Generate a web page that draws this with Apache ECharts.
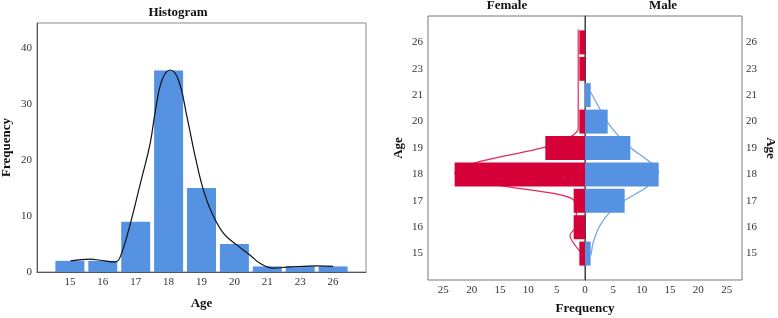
<!DOCTYPE html>
<html>
<head>
<meta charset="utf-8">
<script src="https://cdn.jsdelivr.net/npm/echarts@6/dist/echarts.min.js"></script>
<style>
  html, body { margin: 0; padding: 0; background: #fff; }
  #main { width: 778px; height: 318px; }
</style>
</head>
<body>
<div id="main"></div>
<script>
// age groups and counts
const ages = ['15', '16', '17', '18', '19', '20', '21', '23', '26'];
const totalCounts = [2, 2, 9, 36, 15, 5, 1, 1, 1];
const femaleCounts = [1, 2, 2, 23, 7, 1, 0, 1, 1];
const maleCounts = [1, 0, 7, 13, 8, 4, 1, 0, 0];

// density curves: [age index, frequency]
const totalCurve = [
  [0.02, 2.0], [0.62, 2.3], [0.93, 2.1], [1.38, 1.8], [1.53, 2.7], [1.84, 8.7],
  [2.14, 15.8], [2.44, 23], [2.6, 28.9], [2.8, 34.3], [3.05, 36.1], [3.3, 34.3],
  [3.56, 27.7], [3.81, 20.6], [4.06, 14.6], [4.32, 10.5], [4.67, 6.9], [5.08, 4.8],
  [5.48, 3.0], [5.78, 1.55], [6.18, 0.7], [6.69, 0.9], [7.51, 1.1], [8.0, 1.0]
];
// [frequency, age index]
const femaleCurve = [
  [1.2, 8.49], [1.2, 4.72], [2.35, 4.45], [6.8, 4.04], [19.1, 3.46], [23, 3.05],
  [15.6, 2.6], [2.07, 2.05], [1.47, 1.07], [2.65, 0.69], [0.88, 0.08]
];
const maleCurve = [
  [0.9, 6.15], [2.65, 5.47], [3.8, 5.03], [5.9, 4.46], [7.95, 4.03], [12.95, 3.08],
  [10.9, 2.52], [6.95, 2.01], [4.4, 1.57], [2.65, 1.07], [1.47, 0.44], [1.06, -0.06]
];

const BLUE = '#5592E2';
const RED = '#D50037';
const FONT = 'Liberation Serif';
const tickLabel = { fontFamily: FONT, fontSize: 11, color: '#333' };
const nameStyle = { fontFamily: FONT, fontSize: 13, fontWeight: 'bold', color: '#111' };

const paddedAges = [' ', ...ages, '  '];
const idxLabel = v => (Number.isInteger(v) && ages[v] !== undefined ? ages[v] : '');
const fiveLabel = v => (v % 5 === 0 ? String(v) : '');

var chart = echarts.init(document.getElementById('main'), null, { renderer: 'canvas' });

const gridBase = { outerBoundsMode: 'none', containLabel: false };

chart.setOption({
  animation: false,
  title: [
    { text: 'Histogram', left: 178, top: 6, textAlign: 'center', padding: 0, textStyle: nameStyle },
    { text: 'Female', left: 507, top: -1, textAlign: 'center', padding: 0, textStyle: nameStyle },
    { text: 'Male', left: 663, top: -1, textAlign: 'center', padding: 0, textStyle: nameStyle },
    { text: 'Frequency', left: 585, top: 302, textAlign: 'center', padding: 0, textStyle: nameStyle }
  ],
  grid: [
    Object.assign({ left: 37, top: 23, width: 329, height: 249, show: true, borderColor: '#888', borderWidth: 1 }, gridBase),
    Object.assign({ left: 428, top: 16, width: 157, height: 264, show: true, borderColor: '#777', borderWidth: 1 }, gridBase),
    Object.assign({ left: 585, top: 16, width: 157, height: 264, show: true, borderColor: '#777', borderWidth: 1 }, gridBase),
    Object.assign({ left: 428, top: 16, width: 157, height: 264 }, gridBase),
    Object.assign({ left: 585, top: 16, width: 157, height: 264 }, gridBase)
  ],
  xAxis: [
    {
      gridIndex: 0, type: 'value', min: -1, max: 9, interval: 1,
      name: 'Age', nameLocation: 'middle', nameGap: 25, nameMoveOverlap: false, nameTextStyle: nameStyle,
      axisLine: { show: true, onZero: false, lineStyle: { color: '#555' } }, axisTick: { show: false },
      splitLine: { show: false },
      axisLabel: Object.assign({ margin: 5, formatter: idxLabel }, tickLabel)
    },
    {
      gridIndex: 1, type: 'value', min: 0, max: 27.7, interval: 5, inverse: true,
      axisLine: { show: false }, axisTick: { show: false }, splitLine: { show: false },
      axisLabel: Object.assign({ margin: 5, formatter: fiveLabel }, tickLabel)
    },
    {
      gridIndex: 2, type: 'value', min: 0, max: 27.7, interval: 5,
      axisLine: { show: false }, axisTick: { show: false }, splitLine: { show: false },
      axisLabel: Object.assign({ margin: 5, formatter: v => (v === 0 ? '' : fiveLabel(v)) }, tickLabel)
    },
    { gridIndex: 3, type: 'value', min: 0, max: 27.7, inverse: true, show: false },
    { gridIndex: 4, type: 'value', min: 0, max: 27.7, show: false }
  ],
  yAxis: [
    {
      gridIndex: 0, type: 'value', min: 0, max: 44.5, interval: 10,
      name: 'Frequency', nameLocation: 'middle', nameGap: 24, nameMoveOverlap: false, nameTextStyle: nameStyle,
      axisLine: { show: true, onZero: false, lineStyle: { color: '#555' } }, axisTick: { show: false },
      splitLine: { show: false },
      axisLabel: Object.assign({ margin: 5, formatter: fiveLabel }, tickLabel)
    },
    {
      gridIndex: 1, type: 'category', data: paddedAges, boundaryGap: false, position: 'left',
      name: 'Age', nameLocation: 'middle', nameGap: 23, nameMoveOverlap: false, nameTextStyle: nameStyle,
      axisLine: { show: false }, axisTick: { show: false }, splitLine: { show: false },
      axisLabel: Object.assign({ margin: 5, interval: 0 }, tickLabel)
    },
    {
      gridIndex: 2, type: 'category', data: paddedAges, boundaryGap: false, position: 'right',
      name: 'Age', nameLocation: 'middle', nameGap: 22, nameRotate: -90, nameMoveOverlap: false, nameTextStyle: nameStyle,
      axisLine: { show: false }, axisTick: { show: false }, splitLine: { show: false },
      axisLabel: Object.assign({ margin: 4, interval: 0 }, tickLabel)
    },
    { gridIndex: 3, type: 'value', min: -1, max: 9, show: false },
    {
      // zero line between the two halves
      gridIndex: 4, type: 'value', min: -1, max: 9, position: 'left',
      axisLine: { show: true, onZero: false, lineStyle: { color: '#444' } },
      axisTick: { show: false }, axisLabel: { show: false }, splitLine: { show: false }
    }
  ],
  series: [
    {
      type: 'bar', xAxisIndex: 0, yAxisIndex: 0, barWidth: 29,
      itemStyle: { color: BLUE },
      data: totalCounts.map((v, i) => [i, v])
    },
    {
      type: 'line', xAxisIndex: 0, yAxisIndex: 0, smooth: 0.4, symbol: 'none',
      lineStyle: { color: '#111', width: 1.2 },
      data: totalCurve
    },
    {
      type: 'bar', xAxisIndex: 1, yAxisIndex: 1, barWidth: 24,
      itemStyle: { color: RED },
      data: [null, ...femaleCounts.map(v => (v === 0 ? null : v)), null]
    },
    {
      type: 'bar', xAxisIndex: 2, yAxisIndex: 2, barWidth: 24,
      itemStyle: { color: BLUE },
      data: [null, ...maleCounts.map(v => (v === 0 ? null : v)), null]
    },
    {
      type: 'line', xAxisIndex: 3, yAxisIndex: 3, smooth: 0.25, symbol: 'none',
      lineStyle: { color: '#E3285A', width: 1.2 }, z: 1,
      data: femaleCurve
    },
    {
      type: 'line', xAxisIndex: 4, yAxisIndex: 4, smooth: 0.25, symbol: 'none',
      lineStyle: { color: '#6FA5EA', width: 1.2 }, z: 1,
      data: maleCurve
    }
  ]
});
</script>
</body>
</html>
